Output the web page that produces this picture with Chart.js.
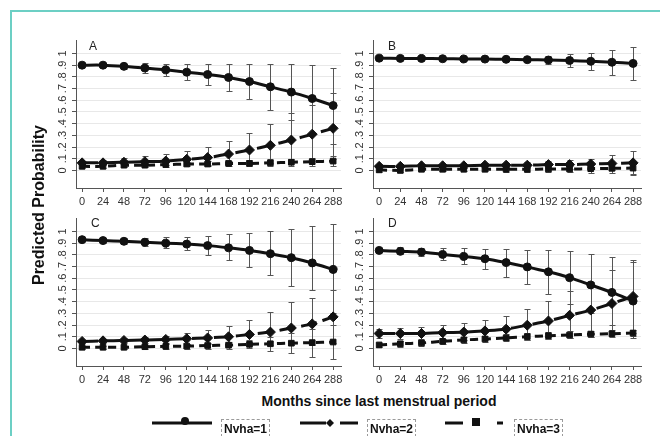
<!DOCTYPE html>
<html><head><meta charset="utf-8">
<script src="https://cdn.jsdelivr.net/npm/chart.js@4.4.0/dist/chart.umd.min.js"></script>
<style>
html,body{margin:0;padding:0;background:#fff;overflow:hidden;}
#wrap{position:relative;width:660px;height:436px;overflow:hidden;background:#fff;font-family:"Liberation Sans",Arial,sans-serif;}
.frame{position:absolute;left:10px;top:10px;width:680px;height:460px;border-top:2px solid #6ccfc4;border-left:2px solid #6ccfc4;}
canvas{position:absolute;}
.let{position:absolute;font-size:12px;line-height:12px;color:#222;}
#ytitle{position:absolute;left:39px;top:205px;transform:translate(-50%,-50%) rotate(-90deg);font-weight:bold;font-size:16px;line-height:16px;white-space:nowrap;color:#111;}
#xtitle{position:absolute;left:379px;top:394px;transform:translateX(-50%);font-weight:bold;font-size:14px;line-height:14px;white-space:nowrap;color:#111;}
.lg{position:absolute;top:419px;height:24px;border:1px dashed #9a9a9a;font-weight:bold;font-size:12px;line-height:14px;padding:2px 2px 0 2px;color:#111;white-space:nowrap;}
svg{position:absolute;left:0;top:0;}
</style>
</head><body>
<div id="wrap">
<div class="frame"></div>
<canvas id="cA" width="307" height="182" style="left:40px;top:30px"></canvas>
<canvas id="cB" width="310" height="182" style="left:337px;top:30px"></canvas>
<canvas id="cC" width="307" height="182" style="left:40px;top:208px"></canvas>
<canvas id="cD" width="310" height="182" style="left:337px;top:208px"></canvas>
<div class="let" style="left:89px;top:40px">A</div>
<div class="let" style="left:388px;top:40px">B</div>
<div class="let" style="left:91px;top:217px">C</div>
<div class="let" style="left:388px;top:217px">D</div>
<div id="ytitle">Predicted Probability</div>
<div id="xtitle">Months since last menstrual period</div>
<svg width="660" height="436">
  <line x1="152" y1="423" x2="212" y2="423" stroke="#111" stroke-width="3"/>
  <circle cx="185" cy="421" r="4" fill="#111"/>
  <line x1="300" y1="423" x2="326" y2="423" stroke="#111" stroke-width="3"/>
  <polygon points="330,419 334,423 330,427 326,423" fill="#111"/>
  <line x1="340" y1="423" x2="358" y2="423" stroke="#111" stroke-width="3"/>
  <line x1="445" y1="423" x2="463" y2="423" stroke="#111" stroke-width="3"/>
  <rect x="472" y="418" width="8" height="8" fill="#111"/>
  <line x1="497" y1="423" x2="503" y2="423" stroke="#111" stroke-width="3"/>
</svg>
<div class="lg" style="left:221px">Nvha=1</div>
<div class="lg" style="left:367px">Nvha=2</div>
<div class="lg" style="left:514px">Nvha=3</div>
</div>
<script>
// ---- data ----
const months = [0,24,48,72,96,120,144,168,192,216,240,264,288];
const xTickLabels = ["0","24","48","72","96","120","144","168","192","216","240","264","288"];
const yTickValues = [0,0.1,0.2,0.3,0.4,0.5,0.6,0.7,0.8,0.9,1];
const yTickLabels = ["0",".1",".2",".3",".4",".5",".6",".7",".8",".9","1"];
const seriesNames = ["Nvha=1","Nvha=2","Nvha=3"];

// Panel A
const a1   = [0.90,0.90,0.89,0.875,0.86,0.84,0.82,0.795,0.76,0.715,0.67,0.615,0.555];
const a1lo = [0.89,0.885,0.87,0.835,0.81,0.775,0.73,0.68,0.61,0.52,0.43,0.32,0.23];
const a1hi = [0.915,0.915,0.91,0.915,0.91,0.91,0.91,0.91,0.91,0.91,0.91,0.905,0.88];
const a2   = [0.065,0.065,0.07,0.075,0.08,0.095,0.11,0.14,0.175,0.215,0.26,0.31,0.36];
const a2lo = [0.045,0.045,0.045,0.045,0.045,0.045,0.05,0.055,0.06,0.065,0.07,0.08,0.1];
const a2hi = [0.085,0.09,0.105,0.125,0.14,0.165,0.2,0.255,0.32,0.4,0.49,0.56,0.66];
const a3   = [0.035,0.035,0.045,0.045,0.05,0.055,0.055,0.06,0.06,0.065,0.07,0.075,0.08];
const a3lo = [0.02,0.02,0.03,0.03,0.03,0.035,0.035,0.035,0.035,0.035,0.035,0.04,0.04];
const a3hi = [0.05,0.05,0.06,0.065,0.07,0.075,0.08,0.085,0.09,0.095,0.1,0.11,0.12];
// Panel B
const b1   = [0.96,0.958,0.957,0.955,0.953,0.952,0.95,0.947,0.944,0.94,0.933,0.925,0.915];
const b1lo = [0.945,0.945,0.945,0.945,0.943,0.942,0.938,0.932,0.91,0.885,0.856,0.82,0.772];
const b1hi = [0.975,0.972,0.97,0.966,0.963,0.962,0.962,0.965,0.98,0.994,1.0,1.028,1.056];
const b2   = [0.035,0.035,0.04,0.04,0.04,0.045,0.045,0.045,0.05,0.05,0.055,0.06,0.065];
const b2lo = [0.02,0.02,0.025,0.025,0.025,0.025,0.025,0.02,0.02,0.015,0.01,0.0,-0.03];
const b2hi = [0.05,0.05,0.055,0.055,0.055,0.06,0.065,0.07,0.08,0.09,0.1,0.13,0.17];
const b3   = [0.005,0.0,0.01,0.01,0.01,0.01,0.01,0.01,0.012,0.012,0.015,0.018,0.02];
const b3lo = [-0.01,-0.015,-0.005,-0.005,-0.005,-0.005,-0.01,-0.01,-0.01,-0.015,-0.02,-0.025,-0.035];
const b3hi = [0.02,0.015,0.025,0.025,0.025,0.025,0.03,0.03,0.035,0.04,0.045,0.055,0.07];
// Panel C
const c1   = [0.93,0.922,0.916,0.908,0.9,0.892,0.879,0.86,0.838,0.81,0.776,0.731,0.675];
const c1lo = [0.915,0.905,0.895,0.875,0.855,0.838,0.798,0.753,0.697,0.627,0.535,0.5,0.3];
const c1hi = [0.945,0.94,0.94,0.945,0.955,0.955,0.957,0.98,0.986,1.0,1.025,1.05,1.06];
const c2   = [0.06,0.065,0.068,0.072,0.077,0.083,0.09,0.1,0.12,0.14,0.175,0.21,0.27];
const c2lo = [0.045,0.045,0.045,0.045,0.045,0.04,0.035,0.03,0.03,0.03,0.03,0.03,0.05];
const c2hi = [0.075,0.085,0.09,0.1,0.11,0.13,0.155,0.19,0.24,0.31,0.4,0.43,0.5];
const c3   = [0.01,0.01,0.01,0.015,0.018,0.02,0.025,0.028,0.035,0.04,0.045,0.05,0.055];
const c3lo = [-0.005,-0.005,-0.005,-0.005,-0.005,-0.005,-0.005,-0.005,0.0,-0.02,-0.04,-0.07,-0.09];
const c3hi = [0.025,0.025,0.025,0.03,0.035,0.04,0.05,0.055,0.07,0.1,0.13,0.17,0.2];
// Panel D
const d1   = [0.838,0.83,0.824,0.804,0.787,0.767,0.734,0.697,0.655,0.605,0.543,0.479,0.405];
const d1lo = [0.824,0.804,0.787,0.754,0.72,0.678,0.614,0.55,0.468,0.384,0.3,0.2,0.09];
const d1hi = [0.857,0.865,0.86,0.86,0.86,0.846,0.846,0.843,0.838,0.83,0.81,0.782,0.754];
const d2   = [0.128,0.128,0.128,0.135,0.14,0.15,0.165,0.199,0.235,0.283,0.328,0.384,0.445];
const d2lo = [0.09,0.085,0.08,0.08,0.075,0.07,0.07,0.075,0.08,0.09,0.1,0.12,0.13];
const d2hi = [0.17,0.175,0.185,0.199,0.216,0.244,0.277,0.339,0.404,0.49,0.57,0.67,0.74];
const d3   = [0.03,0.04,0.047,0.061,0.073,0.081,0.09,0.101,0.109,0.115,0.123,0.126,0.132];
const d3lo = [0.015,0.015,0.02,0.035,0.045,0.055,0.065,0.075,0.085,0.09,0.1,0.1,0.105];
const d3hi = [0.045,0.06,0.07,0.085,0.1,0.11,0.12,0.13,0.14,0.145,0.15,0.155,0.16];

// ---- drawing ----
const FONT = '"Liberation Sans", Arial, sans-serif';
const INK = '#111';
const styles = [
  {borderDash:[], pointStyle:'circle', pointRadius:4},
  {borderDash:[16,6], pointStyle:'rectRot', pointRadius:5},
  {borderDash:[8,5], pointStyle:'rect', pointRadius:4}
];

const errorBars = {
  id:'errorBars',
  beforeDatasetsDraw(chart){
    const {ctx, scales:{x, y}} = chart;
    ctx.save();
    ctx.strokeStyle = '#555';
    ctx.lineWidth = 1;
    chart.data.datasets.forEach(ds => {
      ds.data.forEach((p, i) => {
        const px = Math.round(x.getPixelForValue(p.x)) + 0.5;
        const y1 = Math.round(y.getPixelForValue(ds.lo[i])) + 0.5;
        const y2 = Math.round(y.getPixelForValue(ds.hi[i])) + 0.5;
        ctx.beginPath();
        ctx.moveTo(px, y1); ctx.lineTo(px, y2);
        ctx.moveTo(px - 3, y1); ctx.lineTo(px + 3, y1);
        ctx.moveTo(px - 3, y2); ctx.lineTo(px + 3, y2);
        ctx.stroke();
      });
    });
    ctx.restore();
  }
};

function makePanel(id, rightPad, vals, los, his) {
  const datasets = vals.map((v, k) => ({
    label: seriesNames[k],
    data: months.map((m, i) => ({x: m, y: v[i]})),
    lo: los[k], hi: his[k],
    borderColor: INK, backgroundColor: INK,
    borderWidth: 3, borderDash: styles[k].borderDash,
    pointStyle: styles[k].pointStyle, pointRadius: styles[k].pointRadius,
    pointBackgroundColor: INK, pointBorderColor: INK, pointBorderWidth: 1,
    tension: 0.2, fill: false, clip: false
  }));
  new Chart(document.getElementById(id), {
    type: 'line',
    data: {datasets},
    options: {
      responsive: false, animation: false, devicePixelRatio: 1,
      layout: {padding: {top: 7, right: rightPad, left: 0, bottom: 0}},
      plugins: {legend: {display: false}, tooltip: {enabled: false}},
      scales: {
        x: {
          type: 'linear', min: -7, max: 297,
          afterBuildTicks: s => { s.ticks = months.map(v => ({value: v})); },
          afterFit: s => { s.height = 24; },
          grid: {drawOnChartArea: false, drawTicks: true, tickLength: 4, tickColor: '#555'},
          border: {color: '#555', width: 1},
          ticks: {padding: 3, color: '#333', font: {size: 11, family: FONT}, maxRotation: 0, minRotation: 0, autoSkip: false,
                  callback: (v, i) => xTickLabels[i]}
        },
        y: {
          type: 'linear', min: -0.15, max: 1.11,
          afterBuildTicks: s => { s.ticks = yTickValues.map(v => ({value: v})); },
          afterFit: s => { s.width = 36; },
          grid: {color: '#e8e8e8', tickColor: '#555', tickLength: 4, lineWidth: 1},
          border: {color: '#555', width: 1},
          ticks: {minRotation: 90, maxRotation: 90, crossAlign: 'center', padding: 4, color: '#333',
                  font: {size: 11, family: FONT}, autoSkip: false,
                  callback: (v, i) => yTickLabels[i]}
        }
      }
    },
    plugins: [errorBars]
  });
}

makePanel('cA', 2, [a1,a2,a3], [a1lo,a2lo,a3lo], [a1hi,a2hi,a3hi]);
makePanel('cB', 2, [b1,b2,b3], [b1lo,b2lo,b3lo], [b1hi,b2hi,b3hi]);
makePanel('cC', 2, [c1,c2,c3], [c1lo,c2lo,c3lo], [c1hi,c2hi,c3hi]);
makePanel('cD', 2, [d1,d2,d3], [d1lo,d2lo,d3lo], [d1hi,d2hi,d3hi]);
</script>
</body></html>
